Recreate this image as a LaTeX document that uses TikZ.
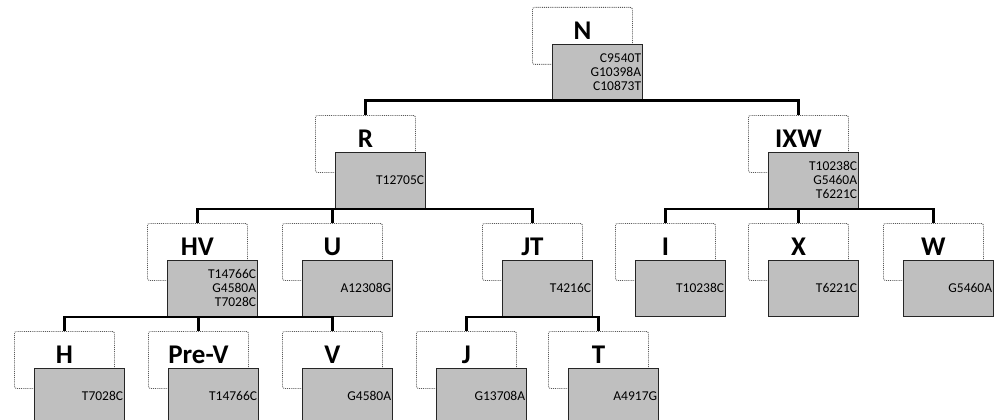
\documentclass[tikz,border=0pt]{standalone}
\usepackage{fontspec}
\setmainfont{Carlito}
\usepackage{xcolor}
\usepackage{tikz}

\begin{document}
\begin{tikzpicture}[x=1pt,y=-1pt,
  clade/.style={draw=black!65,densely dotted,line width=0.9pt,rounded corners=2pt,fill=white,
    anchor=north west,minimum width=100pt,inner xsep=0pt,inner ysep=15.6pt,
    text height=16.7pt,text depth=9.1pt,font=\fontsize{27}{27}\selectfont\bfseries},
  snp/.style={draw=black!85,line width=0.8pt,fill=black!25,anchor=north west,
    minimum height=56pt,text width=87.5pt,inner xsep=1.2pt,inner ysep=0pt,
    align=right,font=\fontsize{13.5}{14}\selectfont},
  link/.style={line width=2.6pt,black}]
\useasboundingbox (0,0) rectangle (994,420);

% top
\node[clade] (Nl) at (532,7) {N};
\node[snp] (N) at (552,44) {C9540T\\G10398A\\C10873T};

% second row
\node[clade] (Rl) at (315,115) {R};
\node[snp] (R) at (335,152) {T12705C};
\node[clade] (IXWl) at (748,115) {IXW};
\node[snp] (IXW) at (768,152) {T10238C\\G5460A\\T6221C};

% third row
\node[clade] (HVl) at (147,223) {HV};
\node[snp] (HV) at (167,260) {T14766C\\G4580A\\T7028C};
\node[clade] (Ul) at (282,223) {U};
\node[snp] (U) at (302,260) {A12308G};
\node[clade] (JTl) at (482,223) {JT};
\node[snp] (JT) at (502,260) {T4216C};
\node[clade] (Il) at (615,223) {I};
\node[snp] (I) at (635,260) {T10238C};
\node[clade] (Xl) at (748,223) {X};
\node[snp] (X) at (768,260) {T6221C};
\node[clade] (Wl) at (883,223) {W};
\node[snp] (W) at (903,260) {G5460A};

% bottom row
\node[clade] (Hl) at (14,331) {H};
\node[snp] (H) at (34,368) {T7028C};
\node[clade] (PreVl) at (148,331) {Pre-V};
\node[snp] (PreV) at (168,368) {T14766C};
\node[clade] (Vl) at (282,331) {V};
\node[snp] (V) at (302,368) {G4580A};
\node[clade] (Jl) at (416,331) {J};
\node[snp] (J) at (436,368) {G13708A};
\node[clade] (Tl) at (548,331) {T};
\node[snp] (T) at (568,368) {A4917G};

% branches
\draw[link] (Rl.north) -- (Rl.north |- N.south) -- (IXWl.north |- N.south) -- (IXWl.north);
\draw[link] (HVl.north) -- (HVl.north |- R.south) -- (JTl.north |- R.south) -- (JTl.north);
\draw[link] (Ul.north) -- (Ul.north |- R.south);
\draw[link] (Il.north) -- (Il.north |- IXW.south) -- (Wl.north |- IXW.south) -- (Wl.north);
\draw[link] (Xl.north) -- (Xl.north |- IXW.south);
\draw[link] (Hl.north) -- (Hl.north |- HV.south) -- (Vl.north |- HV.south) -- (Vl.north);
\draw[link] (PreVl.north) -- (PreVl.north |- HV.south);
\draw[link] (Jl.north) -- (Jl.north |- JT.south) -- (Tl.north |- JT.south) -- (Tl.north);
\end{tikzpicture}
\end{document}
